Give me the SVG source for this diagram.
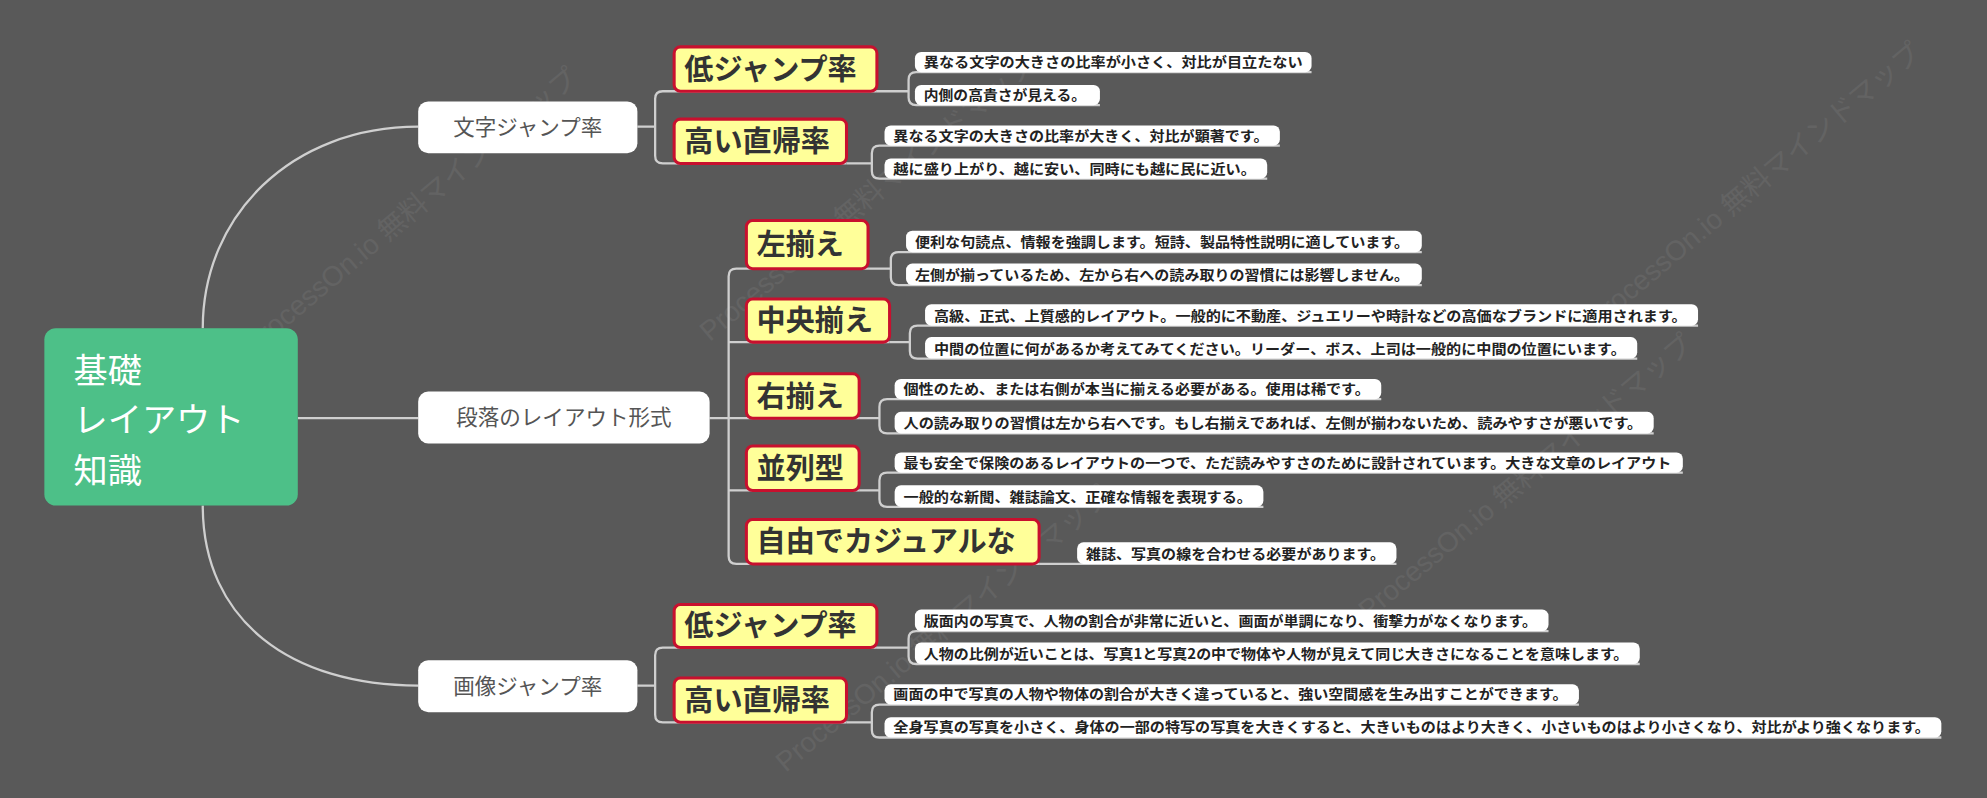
<svg xmlns="http://www.w3.org/2000/svg" width="1987" height="798" viewBox="0 0 1987 798">
<style>
.c{fill:none;stroke:#cfcfcf;stroke-width:1.8}
.l1{fill:#fff}
.l1t{font-family:"Noto Sans CJK JP","Noto Sans",sans-serif;font-size:17px;fill:#555}
.l2{fill:#ffff99;stroke:#c8102e;stroke-width:2.4}
.l2t{font-family:"Noto Sans CJK JP","Noto Sans",sans-serif;font-size:23px;font-weight:bold;fill:#333}
.lf{fill:#fff}
.lft{font-family:"Noto Sans CJK JP","Noto Sans",sans-serif;font-size:11px;font-weight:bold;fill:#222}
.wm{font-family:"Liberation Sans","Noto Sans CJK JP",sans-serif;font-size:22px;fill:#fff;opacity:0.06}
</style>
<rect width="1987" height="798" fill="#595959"/>
<g transform="scale(1.2672)">
<g id="watermark">
<text class="wm" transform="translate(200,280) rotate(-40)">ProcessOn.io 無料マインドマップ</text>
<text class="wm" transform="translate(560,270) rotate(-40)">ProcessOn.io 無料マインドマップ</text>
<text class="wm" transform="translate(620,610) rotate(-40)">ProcessOn.io 無料マインドマップ</text>
<text class="wm" transform="translate(1080,490) rotate(-40)">ProcessOn.io 無料マインドマップ</text>
<text class="wm" transform="translate(1260,260) rotate(-40)">ProcessOn.io 無料マインドマップ</text>
</g>
<g id="connectors">
<path class="c" d="M160 259 C160 170 230 100 330 100"/>
<path class="c" d="M160 399 C160 490 230 541 330 541"/>
<path class="c" d="M235 330 H330"/>
<path class="c" d="M503 100 H517 M692 72 H523 Q517 72 517 78 V123 Q517 129 523 129 H668"/>
<path class="c" d="M560 330 H575 M685 212 H581 Q575 212 575 218 V439 Q575 445 581 445 H820 M575 270 H702 M575 330 H678 M575 387 H678"/>
<path class="c" d="M503 541 H517 M692 511 H523 Q517 511 517 517 V564 Q517 570 523 570 H668"/>
<path class="c" d="M692 72 H717 M1035 57 H723 Q717 57 717 63 V77 Q717 83 723 83 H868"/>
<path class="c" d="M668 129 H688 M1010 115 H694 Q688 115 688 121 V135 Q688 141 694 141 H1000"/>
<path class="c" d="M685 212 H703 M1122 199 H709 Q703 199 703 205 V219 Q703 225 709 225 H1122"/>
<path class="c" d="M702 270 H718 M1340 257 H724 Q718 257 718 263 V277 Q718 283 724 283 H1292"/>
<path class="c" d="M678 330 H694 M1090 315 H700 Q694 315 694 321 V336 Q694 342 700 342 H1305"/>
<path class="c" d="M678 387 H694 M1328 373 H700 Q694 373 694 379 V394 Q694 400 700 400 H997"/>
<path class="c" d="M820 445 H1102"/>
<path class="c" d="M692 511 H717 M1222 498 H723 Q717 498 717 504 V518 Q717 524 723 524 H1294"/>
<path class="c" d="M668 570 H688 M1246 556 H694 Q688 556 688 562 V576 Q688 582 694 582 H1532"/>
</g>
<g id="root">
<rect x="35" y="259" width="200" height="140" rx="9" fill="#4dc088"/>
<text x="58" y="302" font-family="'Noto Sans CJK JP',sans-serif" font-size="27" fill="#fff">基礎</text>
<text x="58" y="341" font-family="'Noto Sans CJK JP',sans-serif" font-size="27" fill="#fff">レイアウト</text>
<text x="58" y="381" font-family="'Noto Sans CJK JP',sans-serif" font-size="27" fill="#fff">知識</text>
</g>
<g id="n-moji"><rect class="l1" x="330" y="80" width="173" height="41" rx="8"/><text class="l1t" x="416.5" y="106.5" text-anchor="middle">文字ジャンプ率</text></g>
<g id="n-danraku"><rect class="l1" x="330" y="309" width="230" height="41" rx="8"/><text class="l1t" x="445" y="335.5" text-anchor="middle">段落のレイアウト形式</text></g>
<g id="n-gazou"><rect class="l1" x="330" y="521" width="173" height="41" rx="8"/><text class="l1t" x="416.5" y="547.5" text-anchor="middle">画像ジャンプ率</text></g>

<g id="n-a"><rect class="l2" x="532" y="37" width="160" height="35" rx="5"/><text class="l2t" x="540" y="63">低ジャンプ率</text></g>
<g id="n-b"><rect class="l2" x="532" y="94" width="136" height="35" rx="5"/><text class="l2t" x="540" y="120">高い直帰率</text></g>
<g id="n-c"><rect class="l2" x="589" y="174" width="96" height="38" rx="5"/><text class="l2t" x="597" y="201">左揃え</text></g>
<g id="n-d"><rect class="l2" x="589" y="236" width="113" height="34" rx="5"/><text class="l2t" x="597" y="261">中央揃え</text></g>
<g id="n-e"><rect class="l2" x="589" y="295" width="89" height="35" rx="5"/><text class="l2t" x="597" y="321">右揃え</text></g>
<g id="n-f"><rect class="l2" x="589" y="352" width="89" height="35" rx="5"/><text class="l2t" x="597" y="378">並列型</text></g>
<g id="n-g"><rect class="l2" x="589" y="410" width="231" height="35" rx="5"/><text class="l2t" x="597" y="436">自由でカジュアルな</text></g>
<g id="n-h"><rect class="l2" x="532" y="477" width="160" height="34" rx="5"/><text class="l2t" x="540" y="502">低ジャンプ率</text></g>
<g id="n-i"><rect class="l2" x="532" y="535" width="136" height="35" rx="5"/><text class="l2t" x="540" y="561">高い直帰率</text></g>

<g id="leaf-a1"><rect class="lf" x="722" y="41" width="313" height="16" rx="5"/><text class="lft" x="729" y="53" textLength="299" lengthAdjust="spacingAndGlyphs">異なる文字の大きさの比率が小さく、対比が目立たない</text></g>
<g id="leaf-a2"><rect class="lf" x="722" y="67" width="146" height="16" rx="5"/><text class="lft" x="729" y="79" textLength="128" lengthAdjust="spacingAndGlyphs">内側の高貴さが見える。</text></g>
<g id="leaf-b1"><rect class="lf" x="698" y="99" width="312" height="16" rx="5"/><text class="lft" x="705" y="111" textLength="296" lengthAdjust="spacingAndGlyphs">異なる文字の大きさの比率が大きく、対比が顕著です。</text></g>
<g id="leaf-b2"><rect class="lf" x="698" y="125" width="302" height="16" rx="5"/><text class="lft" x="705" y="137" textLength="286" lengthAdjust="spacingAndGlyphs">越に盛り上がり、越に安い、同時にも越に民に近い。</text></g>
<g id="leaf-c1"><rect class="lf" x="715" y="182" width="407" height="17" rx="5"/><text class="lft" x="722" y="195" textLength="390" lengthAdjust="spacingAndGlyphs">便利な句読点、情報を強調します。短詩、製品特性説明に適しています。</text></g>
<g id="leaf-c2"><rect class="lf" x="715" y="208" width="407" height="17" rx="5"/><text class="lft" x="722" y="221" textLength="390" lengthAdjust="spacingAndGlyphs">左側が揃っているため、左から右への読み取りの習慣には影響しません。</text></g>
<g id="leaf-d1"><rect class="lf" x="730" y="240" width="610" height="17" rx="5"/><text class="lft" x="737" y="253" textLength="594" lengthAdjust="spacingAndGlyphs">高級、正式、上質感的レイアウト。一般的に不動産、ジュエリーや時計などの高価なブランドに適用されます。</text></g>
<g id="leaf-d2"><rect class="lf" x="730" y="266" width="562" height="17" rx="5"/><text class="lft" x="737" y="279" textLength="546" lengthAdjust="spacingAndGlyphs">中間の位置に何があるか考えてみてください。リーダー、ボス、上司は一般的に中間の位置にいます。</text></g>
<g id="leaf-e1"><rect class="lf" x="706" y="299" width="384" height="16" rx="5"/><text class="lft" x="713" y="311" textLength="368" lengthAdjust="spacingAndGlyphs">個性のため、または右側が本当に揃える必要がある。使用は稀です。</text></g>
<g id="leaf-e2"><rect class="lf" x="706" y="325" width="599" height="17" rx="5"/><text class="lft" x="713" y="338" textLength="583" lengthAdjust="spacingAndGlyphs">人の読み取りの習慣は左から右へです。もし右揃えであれば、左側が揃わないため、読みやすさが悪いです。</text></g>
<g id="leaf-f1"><rect class="lf" x="706" y="357" width="622" height="16" rx="5"/><text class="lft" x="713" y="369" textLength="606" lengthAdjust="spacingAndGlyphs">最も安全で保険のあるレイアウトの一つで、ただ読みやすさのために設計されています。大きな文章のレイアウト</text></g>
<g id="leaf-f2"><rect class="lf" x="706" y="383" width="291" height="17" rx="5"/><text class="lft" x="713" y="396" textLength="275" lengthAdjust="spacingAndGlyphs">一般的な新聞、雑誌論文、正確な情報を表現する。</text></g>
<g id="leaf-g1"><rect class="lf" x="850" y="428" width="252" height="17" rx="5"/><text class="lft" x="857" y="441" textLength="236" lengthAdjust="spacingAndGlyphs">雑誌、写真の線を合わせる必要があります。</text></g>
<g id="leaf-h1"><rect class="lf" x="722" y="481" width="500" height="17" rx="5"/><text class="lft" x="729" y="494" textLength="484" lengthAdjust="spacingAndGlyphs">版面内の写真で、人物の割合が非常に近いと、画面が単調になり、衝撃力がなくなります。</text></g>
<g id="leaf-h2"><rect class="lf" x="722" y="507" width="572" height="17" rx="5"/><text class="lft" x="729" y="520" textLength="556" lengthAdjust="spacingAndGlyphs">人物の比例が近いことは、写真1と写真2の中で物体や人物が見えて同じ大きさになることを意味します。</text></g>
<g id="leaf-i1"><rect class="lf" x="698" y="540" width="548" height="16" rx="5"/><text class="lft" x="705" y="552" textLength="532" lengthAdjust="spacingAndGlyphs">画面の中で写真の人物や物体の割合が大きく違っていると、強い空間感を生み出すことができます。</text></g>
<g id="leaf-i2"><rect class="lf" x="698" y="566" width="834" height="16" rx="5"/><text class="lft" x="705" y="578" textLength="818" lengthAdjust="spacingAndGlyphs">全身写真の写真を小さく、身体の一部の特写の写真を大きくすると、大きいものはより大きく、小さいものはより小さくなり、対比がより強くなります。</text></g>
</g>
</svg>
